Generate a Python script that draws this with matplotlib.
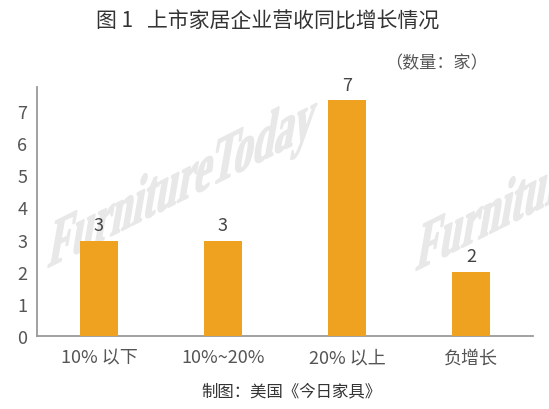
import numpy as np
import matplotlib
matplotlib.use("Agg")
import matplotlib.pyplot as plt
from matplotlib.textpath import TextPath
from matplotlib.patches import PathPatch
from matplotlib.font_manager import FontProperties
import matplotlib.transforms as mtransforms

plt.rcParams['font.family'] = ['Noto Sans CJK SC', 'DejaVu Sans']

# ---- data ----
categories = ["10% 以下", "10%~20%", "20% 以上", "负增长"]
bar_heights = [2.96, 2.96, 7.33, 2.0]   # bar heights as drawn in the reference
value_labels = ["3", "3", "7", "2"]    # printed labels
y_ticks = [0, 1, 2, 3, 4, 5, 6, 7]
title = "图 1   上市家居企业营收同比增长情况"
unit_text = "（数量：家）"
footer = "制图：美国《今日家具》"
watermark = "FurnitureToday"

W, H = 549, 410
fig = plt.figure(figsize=(W / 100, H / 100), dpi=100)
fig.patch.set_facecolor("white")

ax = fig.add_axes([37 / W, 1 - 337 / H, (533 - 37) / W, (337 - 88) / H])
ax.patch.set_visible(False)
ax.set_zorder(1)

x = list(range(len(categories)))
ax.bar(x, bar_heights, width=0.306, color="#EFA21F", zorder=3)

for xi, h, lab in zip(x, bar_heights, value_labels):
    ax.annotate(lab, (xi, h), xytext=(0, 5), textcoords="offset points",
                ha="center", va="bottom", fontsize=13, color="#444444",
                fontweight="light")

ax.set_xlim(-0.5, 3.5)
ax.set_ylim(0, 7.75)
ax.set_yticks(y_ticks)
ax.set_yticklabels([str(t) for t in y_ticks], fontsize=13, color="#555555",
                   fontweight="light")
ax.set_xticks(x)
ax.set_xticklabels(categories, fontsize=13, color="#555555", fontweight="light")
ax.tick_params(axis="y", length=0, pad=7)
ax.tick_params(axis="x", length=0, pad=9)
for s in ["top", "right"]:
    ax.spines[s].set_visible(False)
for s in ["left", "bottom"]:
    ax.spines[s].set_color("#9a9a9a")
    ax.spines[s].set_linewidth(1.3)

# title, unit, footer
fig.text(268 / W, 1 - 22 / H, title, ha="center", va="center", fontsize=15,
         color="#333333", fontweight="medium")
fig.text(488 / W, 1 - 63 / H, unit_text, ha="right", va="center", fontsize=12.3,
         color="#555555", fontweight="light")
fig.text(291 / W, 1 - 392 / H, footer, ha="center", va="center", fontsize=11.8,
         color="#333333", fontweight="medium")

# watermark (drawn in pixel coordinates, skewed like the original stamp)
fp = FontProperties(family="Liberation Serif", weight="bold")
tp = TextPath((0, 0), watermark, size=44, prop=fp)
mat = np.array([[0.88, 0.28, 0.0],
                [0.44, 1.62, 0.0],
                [0.0, 0.0, 1.0]])
for (x0, y0) in [(47, H - 269), (415, H - 272)]:
    tr = mtransforms.Affine2D(mat.copy()).translate(x0, y0)
    patch = PathPatch(tp, facecolor="#e8e8e8", edgecolor="#e8e8e8",
                      linewidth=1.0, transform=tr, zorder=0)
    fig.add_artist(patch)

fig.savefig("out.png", dpi=100)
